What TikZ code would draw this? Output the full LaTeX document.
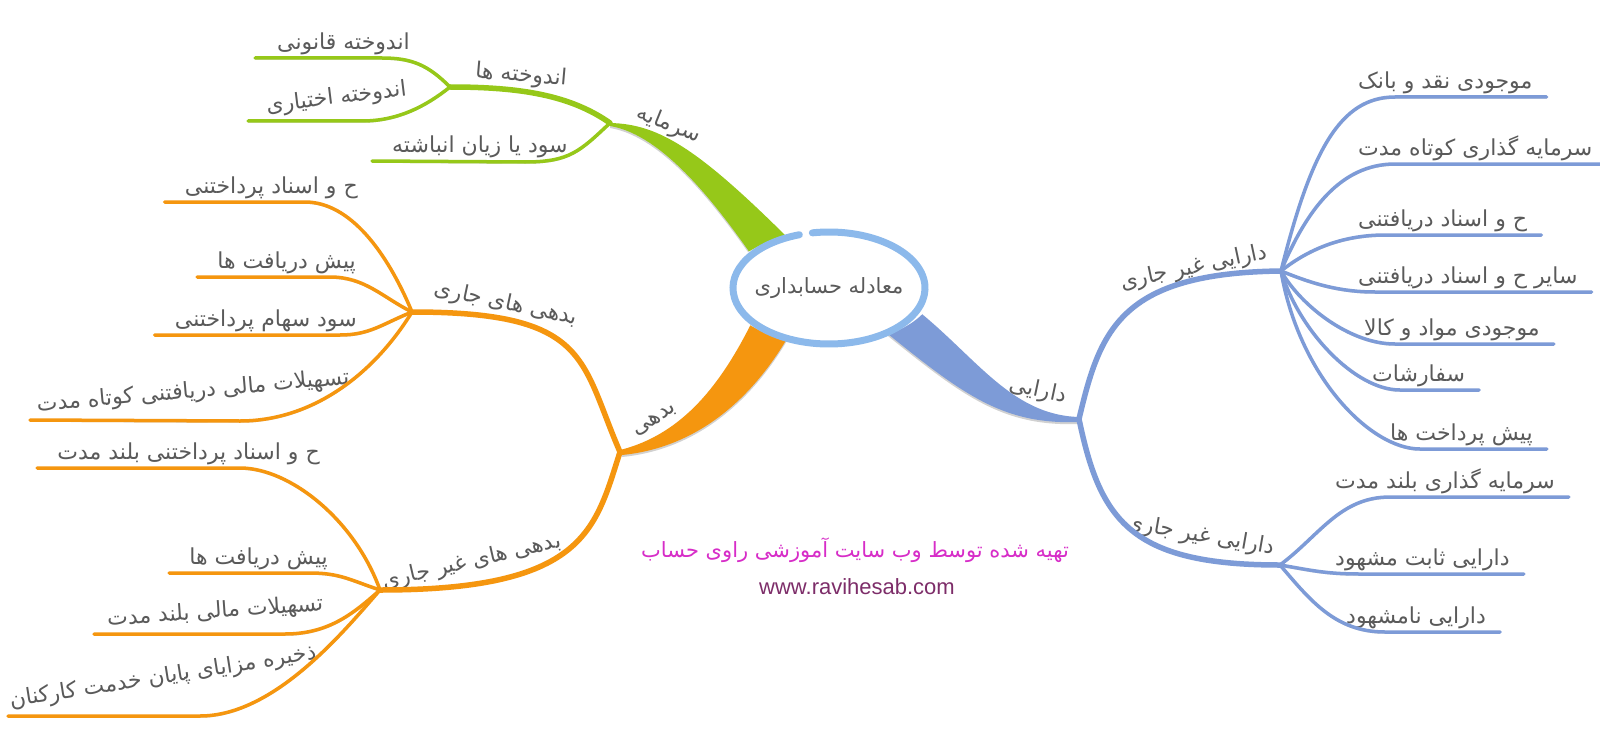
\documentclass[tikz,border=0pt]{standalone}
\usepackage{fontspec}
\setmainfont{Liberation Sans}
\newfontfamily\fa[Script=Arabic]{DejaVu Sans}
\TeXXeTstate=1
\newcommand{\rl}[1]{\beginR#1\endR}
\usetikzlibrary{shapes.geometric}

\definecolor{greenB}{RGB}{150,200,25}
\definecolor{orangeB}{RGB}{245,150,15}
\definecolor{blueB}{RGB}{125,155,215}
\definecolor{ringB}{RGB}{140,185,235}
\definecolor{txtgray}{RGB}{90,90,90}
\definecolor{creditC}{RGB}{215,45,200}
\definecolor{urlC}{RGB}{125,45,105}

\begin{document}
\begin{tikzpicture}[x=1pt,y=-1pt]
\tikzstyle{lbl} = [font=\fa\fontsize{22}{25}\selectfont, text=txtgray, inner xsep=0pt, inner ysep=3pt]
\tikzstyle{lowline} = [preaction={draw=black!18, transform canvas={yshift=-1.6pt}}]
\tikzstyle{lowfill} = [preaction={fill=black!18, transform canvas={yshift=-2pt}}]
\tikzstyle{limbG} = [draw=greenB, line width=5.5pt, line cap=round, lowline]
\tikzstyle{twigG} = [draw=greenB, line width=3.5pt, line cap=round, lowline]
\tikzstyle{limbO} = [draw=orangeB, line width=5.5pt, line cap=round, lowline]
\tikzstyle{twigO} = [draw=orangeB, line width=3.5pt, line cap=round, lowline]
\tikzstyle{limbB} = [draw=blueB, line width=5.5pt, line cap=round, lowline]
\tikzstyle{twigB} = [draw=blueB, line width=3.5pt, line cap=round, lowline]
\tikzstyle{root} = [ellipse, fill=white, minimum width=192pt, minimum height=112pt, inner sep=0pt, font=\fa\fontsize{21}{24}\selectfont, text=txtgray]
\tikzstyle{ring} = [draw=ringB, line width=7pt, line cap=round]

\fill[white] (0,0) rectangle (1600,733);
\useasboundingbox (0,0) rectangle (1600,733);

% junctions
\coordinate (jS) at (610,123);
\coordinate (jR) at (450,87);
\coordinate (jB) at (620,452);
\coordinate (jBJ) at (412,312);
\coordinate (jBN) at (380,590);
\coordinate (jD) at (1079,419);
\coordinate (jDc) at (1281,271);
\coordinate (jDn) at (1280,565);

% trunks
\fill[greenB, lowfill] (jS) .. controls (660,124) and (700,150) .. (795,245)
  -- (755,260) .. controls (720,210) and (665,135) .. (610,126) -- cycle;
\fill[orangeB, lowfill] (752,322) .. controls (722,382) and (684,434) .. (620,450)
  -- (622,455) .. controls (694,448) and (752,402) .. (792,330) -- cycle;
\fill[blueB, lowfill] (912,306) .. controls (975,355) and (1010,415) .. (1079,417)
  -- (1079,422) .. controls (1000,425) and (960,392) .. (878,326) -- cycle;

% root
\node[root] (root) at (829,288) {\rl{معادله حسابداری}};
\draw[ring] (root.center) ++(-100:96 and 56) arc[start angle=-100, end angle=252, x radius=96, y radius=56];

% green side
\node[lbl, rotate=-22] (nS) at (669,125) {\rl{سرمایه}};
\node[lbl, anchor=south west, rotate=-5] (nR) at (474,86) {\rl{اندوخته ها}};
\node[lbl, anchor=south east] (e1) at (410,58) {\rl{اندوخته قانونی}};
\node[lbl, anchor=south west, rotate=7] (e2) at (268,121) {\rl{اندوخته اختیاری}};
\node[lbl, anchor=south west] (f1) at (392,161) {\rl{سود یا زیان انباشته}};
\coordinate (e1h) at (382,58);
\coordinate (e2h) at (362,121);
\coordinate (f1h) at (525,162);

\draw[limbG] (jS) .. controls +(-40,-28) and +(70,0) .. (jR);
\draw[twigG] (jR) .. controls +(-22,-22) and +(30,0) .. (e1h) -- ([xshift=-22]e1.south west);
\draw[twigG] (jR) .. controls +(-25,20) and +(35,0) .. (e2h) -- ([xshift=-20]e2.south west);
\draw[twigG] (jS) .. controls +(-30,28) and +(45,0) .. (f1h) -- ([xshift=-20]f1.south west);

% orange side
\node[lbl, rotate=32] (nB) at (655,420) {\rl{بدهی}};
\node[lbl, rotate=-12] (nBJ) at (506,304) {\rl{بدهی های جاری}};
\node[lbl, rotate=13] (nBN) at (472,562) {\rl{بدهی های غیر جاری}};

\node[lbl, anchor=south east] (c1) at (358,202) {\rl{ح و اسناد پرداختنی}};
\node[lbl, anchor=south east] (c2) at (356,277) {\rl{پیش دریافت ها}};
\node[lbl, anchor=south east] (c3) at (357,335) {\rl{سود سهام پرداختنی}};
\node[lbl, anchor=south west, rotate=5] (c4) at (38,420) {\rl{تسهیلات مالی دریافتنی کوتاه مدت}};
\coordinate (c1h) at (305,202);
\coordinate (c2h) at (330,277);
\coordinate (c3h) at (340,335);
\coordinate (c4h) at (240,421);

\node[lbl, anchor=south east] (d1) at (320,468) {\rl{ح و اسناد پرداختنی بلند مدت}};
\node[lbl, anchor=south east] (d2) at (328,573) {\rl{پیش دریافت ها}};
\node[lbl, anchor=south west, rotate=4] (d3) at (108,634) {\rl{تسهیلات مالی بلند مدت}};
\node[lbl, anchor=south west, rotate=9] (d4) at (12,716) {\rl{ذخیره مزایای پایان خدمت کارکنان}};
\coordinate (d1h) at (240,468);
\coordinate (d2h) at (310,573);
\coordinate (d3h) at (285,634);
\coordinate (d4h) at (200,716);

\draw[limbO] (jB) .. controls +(-40,-92) and +(178,0) .. (jBJ);
\draw[limbO] (jB) .. controls +(-25,78) and +(205,0) .. (jBN);

\draw[twigO] (jBJ) .. controls +(-25,-60) and +(45,0) .. (c1h) -- ([xshift=-20]c1.south west);
\draw[twigO] (jBJ) .. controls +(-30,-15) and +(35,0) .. (c2h) -- ([xshift=-20]c2.south west);
\draw[twigO] (jBJ) .. controls +(-30,12) and +(30,0) .. (c3h) -- ([xshift=-20]c3.south west);
\draw[twigO] (jBJ) .. controls +(-40,65) and +(70,0) .. (c4h) -- ([xshift=-8]c4.south west);

\draw[twigO] (jBN) .. controls +(-25,-70) and +(50,0) .. (d1h) -- ([xshift=-20]d1.south west);
\draw[twigO] (jBN) .. controls +(-30,-10) and +(30,0) .. (d2h) -- ([xshift=-20]d2.south west);
\draw[twigO] (jBN) .. controls +(-25,22) and +(45,0) .. (d3h) -- ([xshift=-14]d3.south west);
\draw[twigO] (jBN) .. controls +(-35,40) and +(75,0) .. (d4h) -- ([xshift=-4]d4.south west);

% blue side
\node[lbl, rotate=-12] (nD) at (1038,391) {\rl{دارایی}};
\node[lbl, rotate=12] (nDc) at (1194,268) {\rl{دارایی غیر جاری}};
\node[lbl, rotate=-10] (nDn) at (1200,536) {\rl{دارایی غیر جاری}};

\node[lbl, anchor=south west] (a1) at (1358,97) {\rl{موجودی نقد و بانک}};
\node[lbl, anchor=south west] (a2) at (1358,164) {\rl{سرمایه گذاری کوتاه مدت}};
\node[lbl, anchor=south west] (a3) at (1358,235) {\rl{ح و اسناد دریافتنی}};
\node[lbl, anchor=south west] (a4) at (1358,292) {\rl{سایر ح و اسناد دریافتنی}};
\node[lbl, anchor=south west] (a5) at (1364,344) {\rl{موجودی مواد و کالا}};
\node[lbl, anchor=south west] (a6) at (1372,390) {\rl{سفارشات}};
\node[lbl, anchor=south west] (a7) at (1390,449) {\rl{پیش پرداخت ها}};
\coordinate (a1h) at (1395,97);
\coordinate (a2h) at (1395,164);
\coordinate (a3h) at (1385,235);
\coordinate (a4h) at (1375,292);
\coordinate (a5h) at (1395,344);
\coordinate (a6h) at (1400,390);
\coordinate (a7h) at (1420,449);

\node[lbl, anchor=south west] (b1) at (1335,497) {\rl{سرمایه گذاری بلند مدت}};
\node[lbl, anchor=south west] (b2) at (1335,574) {\rl{دارایی ثابت مشهود}};
\node[lbl, anchor=south west] (b3) at (1346,632) {\rl{دارایی نامشهود}};
\coordinate (b1h) at (1390,497);
\coordinate (b2h) at (1360,574);
\coordinate (b3h) at (1385,632);

\draw[limbB] (jD) .. controls +(21,-89) and +(-161,2) .. (jDc);
\draw[limbB] (jD) .. controls +(21,101) and +(-150,0) .. (jDn);

\draw[twigB] (jDc) .. controls +(30,-120) and +(-55,0) .. (a1h) -- ([xshift=14]a1.south east);
\draw[twigB] (jDc) .. controls +(25,-60) and +(-55,0) .. (a2h) -- ([xshift=14]a2.south east);
\draw[twigB] (jDc) .. controls +(25,-20) and +(-45,0) .. (a3h) -- ([xshift=14]a3.south east);
\draw[twigB] (jDc) .. controls +(25,10) and +(-40,0) .. (a4h) -- ([xshift=14]a4.south east);
\draw[twigB] (jDc) .. controls +(20,35) and +(-45,0) .. (a5h) -- ([xshift=14]a5.south east);
\draw[twigB] (jDc) .. controls +(18,60) and +(-45,0) .. (a6h) -- ([xshift=14]a6.south east);
\draw[twigB] (jDc) .. controls +(18,105) and +(-50,0) .. (a7h) -- ([xshift=14]a7.south east);

\draw[twigB] (jDn) .. controls +(40,-30) and +(-50,0) .. (b1h) -- ([xshift=14]b1.south east);
\draw[twigB] (jDn) .. controls +(30,5) and +(-35,0) .. (b2h) -- ([xshift=14]b2.south east);
\draw[twigB] (jDn) .. controls +(30,35) and +(-50,0) .. (b3h) -- ([xshift=14]b3.south east);

% credit
\node[font=\fa\fontsize{21}{24}\selectfont, text=creditC] (credit) at (855,550) {\rl{تهیه شده توسط وب سایت آموزشی راوی حساب}};
\node[font=\fontsize{22}{25}\selectfont, text=urlC] (site) at (857,587) {www.ravihesab.com};
\end{tikzpicture}
\end{document}
